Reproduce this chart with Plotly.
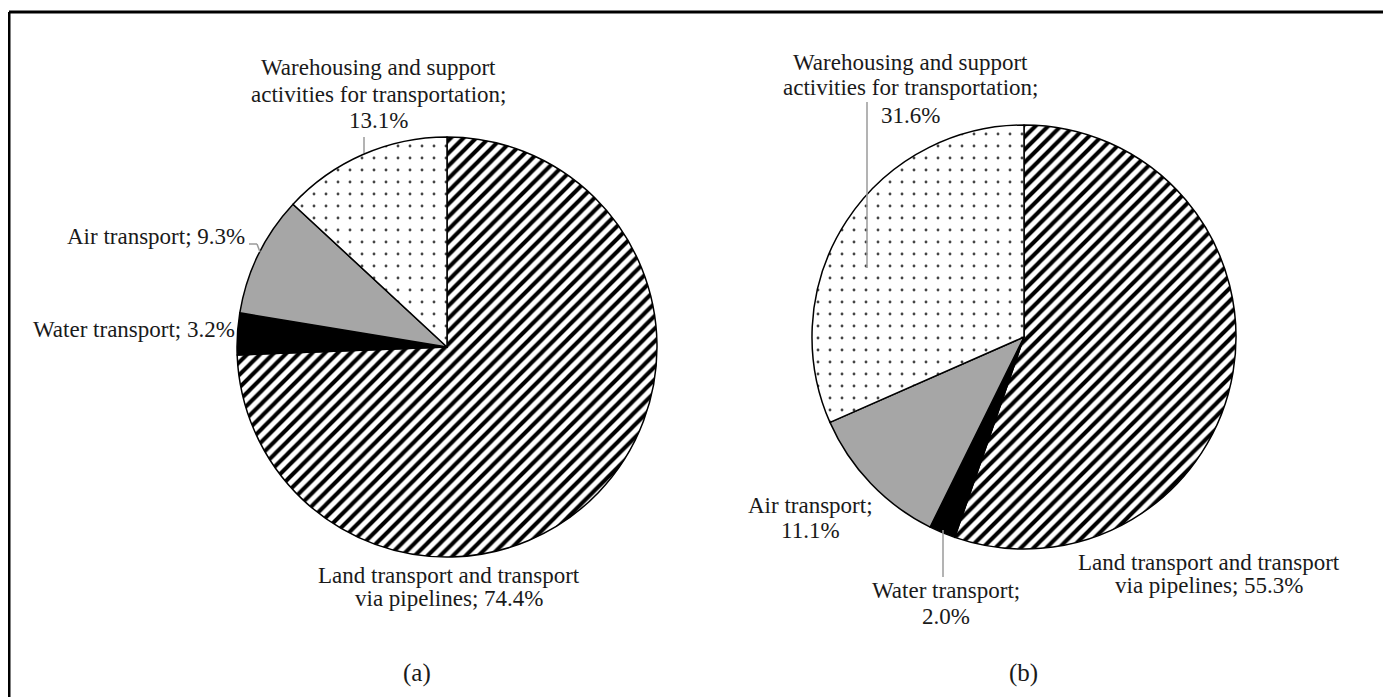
import plotly.graph_objects as go

W, H = 1391, 697
OFF = 8  # page body margin in the browser

categories = ["Land transport and transport via pipelines", "Water transport",
              "Air transport", "Warehousing and support activities for transportation"]
values_a = [74.4, 3.2, 9.3, 13.1]
values_b = [55.3, 2.0, 11.1, 31.6]
panel_labels = ["(a)", "(b)"]

# label lines per panel: (text lines, center x px, list of y px)
labels_a = [
    (["Warehousing and support", "activities for transportation;", "13.1%"], 378, [67, 94, 121]),
    (["Air transport; 9.3%"], 156, [236]),
    (["Water transport; 3.2%"], 134, [330]),
    (["Land transport and transport", "via pipelines; 74.4%"], 449, [575, 598]),
]
labels_b = [
    (["Warehousing and support", "activities for transportation;", "31.6%"], 910, [62, 88, 116]),
    (["Air transport;", "11.1%"], 810, [505, 530]),
    (["Water transport;", "2.0%"], 946, [590, 616]),
    (["Land transport and transport", "via pipelines; 55.3%"], 1209, [562, 585]),
]

FONT = "Liberation Serif"
FS = 23


def px(x):
    return (x - OFF) / W


def py(y):
    return 1 - (y - OFF) / H


colors = ["black", "black", "#a6a6a6", "#444444"]
shapes_pat = ["/", "", "", "."]

fig = go.Figure()

for vals, (cx, cy, r) in [(values_a, (447, 347, 210)), (values_b, (1024, 337, 212))]:
    fig.add_trace(go.Pie(
        labels=categories, values=vals, sort=False, direction="clockwise", rotation=0,
        textinfo="none", hoverinfo="skip", showlegend=False,
        domain=dict(x=[px(cx - r), px(cx + r)], y=[py(cy + r), py(cy - r)]),
        marker=dict(colors=colors, line=dict(color="black", width=1.5),
                    pattern=dict(shape=shapes_pat, bgcolor="white", size=[9, 9, 9, 12],
                                 solidity=[0.45, 0.3, 0.3, 0.045], fillmode="replace")),
    ))

annotations = []
for group in (labels_a, labels_b):
    for lines, x, ys in group:
        for t, y in zip(lines, ys):
            annotations.append(dict(text=t, x=px(x), y=py(y), xref="paper", yref="paper",
                                    xanchor="center", yanchor="middle", showarrow=False,
                                    font=dict(family=FONT, size=FS, color="#1a1a1a")))
for t, x in zip(panel_labels, [417, 1023]):
    annotations.append(dict(text=t, x=px(x), y=py(673), xref="paper", yref="paper",
                            xanchor="center", yanchor="middle", showarrow=False,
                            font=dict(family=FONT, size=25, color="#1a1a1a")))

gray = dict(color="#9a9a9a", width=1.5)
leaders = [
    [(364, 137), (364, 153)],
    [(249, 244), (257, 244), (260, 252)],
    [(867, 102), (867, 268)],
    [(943, 530), (943, 577)],
]
shapes = []
for pts in leaders:
    for (x0, y0), (x1, y1) in zip(pts[:-1], pts[1:]):
        shapes.append(dict(type="line", xref="paper", yref="paper", x0=px(x0), y0=py(y0),
                           x1=px(x1), y1=py(y1), line=gray))
# outer frame (bottom edge lies below the visible area)
border = dict(color="black", width=3)
for (x0, y0), (x1, y1) in [((9, 12), (1386, 12)), ((9, 12), (9, 720)), ((1386, 12), (1386, 720))]:
    shapes.append(dict(type="line", xref="paper", yref="paper", x0=px(x0), y0=py(y0),
                       x1=px(x1), y1=py(y1), line=border))

fig.update_layout(width=W, height=H, margin=dict(l=0, r=0, t=0, b=0),
                  paper_bgcolor="white", plot_bgcolor="white",
                  annotations=annotations, shapes=shapes)

fig.write_html("out.html")
